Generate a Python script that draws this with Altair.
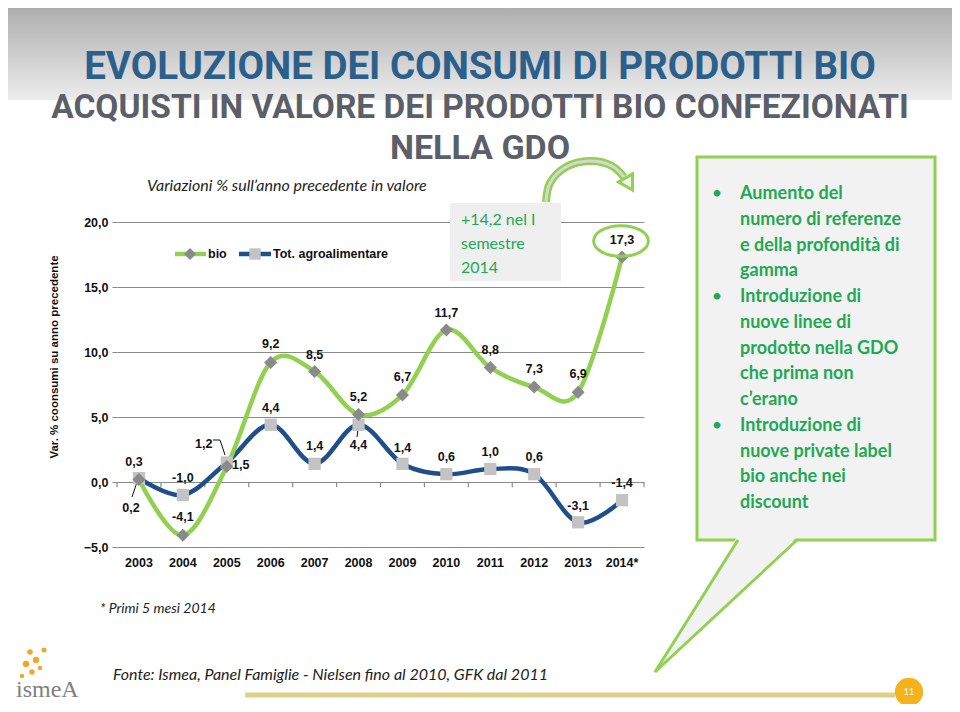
import altair as alt
import pandas as pd

# ---------------- data ----------------
years = ["2003", "2004", "2005", "2006", "2007", "2008", "2009", "2010", "2011", "2012", "2013", "2014*"]
bio = [0.2, -4.1, 1.2, 9.2, 8.5, 5.2, 6.7, 11.7, 8.8, 7.3, 6.9, 17.3]
tot = [0.3, -1.0, 1.5, 4.4, 1.4, 4.4, 1.4, 0.6, 1.0, 0.6, -3.1, -1.4]
y_ticks = [-5, 0, 5, 10, 15, 20]

# label offsets (pixels) for the data labels
bio_off = [(-8, 29), (0, -18), (-23, -22), (0, -18), (0, -17), (0, -17),
           (0, -18), (0, -17), (0, -18), (0, -18), (0, -18), (0, -17)]
tot_off = [(-5, -16), (0, -17), (14, 2), (0, -17), (0, -18), (0, 20),
           (0, -16), (0, -17), (0, -17), (0, -17), (0, -16), (0, -17)]

callout_lines = ["Aumento del", "numero di referenze", "e della profondità di", "gamma",
                 "Introduzione di", "nuove linee di", "prodotto nella GDO", "che prima non",
                 "c’erano", "Introduzione di", "nuove private label", "bio anche nei", "discount"]

# ---------------- layout helpers ----------------
L, T = 117, 222           # page position of plot origin
W, H = 527, 325


def X(p):
    return p - L


def Y(p):
    return p - T


one = pd.DataFrame({"a": [0]})
df = pd.DataFrame({"year": years, "bio": bio, "tot": tot})

GREEN = "#92d050"
BLUE = "#1f4e8b"
TXTGREEN = "#1fa855"
FONT = "Liberation Sans"
TFONT = "Roboto"

xenc = alt.X("year:N", sort=years,
             scale=alt.Scale(type="band", domain=years, paddingInner=0, paddingOuter=0),
             axis=alt.Axis(title=None, grid=False, ticks=False, domain=False, labelAngle=0,
                           labelFont=FONT, labelFontWeight="bold", labelFontSize=12.5,
                           labelColor="#111", labelPadding=9))
yscale = alt.Scale(domain=[-5, 20], nice=False, zero=False)
yaxis = alt.Axis(title=None, values=y_ticks, grid=True, gridColor="#8a8a8a", gridWidth=1.2,
                 domain=False, ticks=True, tickSize=5, tickColor="#8a8a8a",
                 labelExpr="replace(format(datum.value, '.1f'), '.', ',')",
                 labelFont=FONT, labelFontWeight="bold", labelFontSize=12.5,
                 labelColor="#111", labelPadding=4)

layers = []


def rule(x1, y1, x2=None, y2=None, color="#111", width=1.0):
    enc = {"x": alt.value(X(x1)), "y": alt.value(Y(y1))}
    if x2 is not None:
        enc["x2"] = alt.value(X(x2))
    if y2 is not None:
        enc["y2"] = alt.value(Y(y2))
    return alt.Chart(one).mark_rule(color=color, strokeWidth=width).encode(**enc)


# top gradient band
grad = alt.LinearGradient(gradient="linear",
                          stops=[alt.GradientStop(color="#a9a9a9", offset=0),
                                 alt.GradientStop(color="#ececec", offset=1)],
                          x1=0, x2=0, y1=0, y2=1)
layers.append(alt.Chart(one).mark_rect(color=grad).encode(
    x=alt.value(X(0)), x2=alt.value(X(960)), y=alt.value(Y(0)), y2=alt.value(Y(100))))

# base chart axes (invisible carrier)
base = alt.Chart(df).mark_point(opacity=0).encode(
    x=xenc, y=alt.Y("bio:Q", scale=yscale, axis=yaxis))
layers.append(base)

# ticks on zero line at category boundaries
tick_df = pd.DataFrame({"year": years})
layers.append(alt.Chart(tick_df).mark_rule(color="#8a8a8a", strokeWidth=1.2).encode(
    x=alt.X("year:N", sort=years, bandPosition=0), y=alt.datum(0), y2=alt.datum(-0.4)))
layers.append(alt.Chart(one).mark_rule(color="#8a8a8a", strokeWidth=1.2).encode(
    x=alt.value(W), y=alt.datum(0), y2=alt.datum(-0.4)))

# leader lines for some labels
layers.append(rule(137, 482, 132, 497))
layers.append(rule(213, 440, 220, 440))
layers.append(rule(220, 440, 225, 455))
layers.append(rule(358, 430, 357, 437))

# lines
layers.append(alt.Chart(df).mark_line(color=BLUE, strokeWidth=4.5, interpolate="cardinal").encode(
    x=alt.X("year:N", sort=years, bandPosition=0.5), y=alt.Y("tot:Q", scale=yscale)))
layers.append(alt.Chart(df).mark_line(color=GREEN, strokeWidth=4.5, interpolate="cardinal").encode(
    x=alt.X("year:N", sort=years, bandPosition=0.5), y=alt.Y("bio:Q", scale=yscale)))
layers.append(alt.Chart(df).mark_point(shape="square", filled=True, color="#c3c3c3", size=150, opacity=1).encode(
    x=alt.X("year:N", sort=years, bandPosition=0.5), y=alt.Y("tot:Q", scale=yscale)))
layers.append(alt.Chart(df).mark_point(shape="diamond", filled=True, color="#8a8a8a", size=170, opacity=1).encode(
    x=alt.X("year:N", sort=years, bandPosition=0.5), y=alt.Y("bio:Q", scale=yscale)))


# data labels
def fmt(v):
    return f"{v:.1f}".replace(".", ",")


for i, yv in enumerate(years):
    for series, vals, offs in (("bio", bio, bio_off), ("tot", tot, tot_off)):
        d = pd.DataFrame({"year": [yv], "v": [vals[i]], "t": [fmt(vals[i])]})
        layers.append(alt.Chart(d).mark_text(font=FONT, fontWeight="bold", fontSize=12.5,
                                             color="#111", dx=offs[i][0], dy=offs[i][1]).encode(
            x=alt.X("year:N", sort=years, bandPosition=0.5),
            y=alt.Y("v:Q", scale=yscale), text="t:N"))

# in-plot legend
layers.append(rule(175, 254, 206, None, GREEN, 4.5))
layers.append(alt.Chart(one).mark_point(shape="diamond", filled=True, color="#8a8a8a", size=150, opacity=1).encode(
    x=alt.value(X(190)), y=alt.value(Y(254))))
layers.append(alt.Chart(one).mark_text(text="bio", font=FONT, fontWeight="bold", fontSize=12.5,
                                       align="left", baseline="middle", color="#111").encode(
    x=alt.value(X(208)), y=alt.value(Y(254))))
layers.append(rule(239, 254, 271, None, BLUE, 4.5))
layers.append(alt.Chart(one).mark_point(shape="square", filled=True, color="#c3c3c3", size=130, opacity=1).encode(
    x=alt.value(X(255)), y=alt.value(Y(254))))
layers.append(alt.Chart(one).mark_text(text="Tot. agroalimentare", font=FONT, fontWeight="bold", fontSize=12.5,
                                       align="left", baseline="middle", color="#111").encode(
    x=alt.value(X(273)), y=alt.value(Y(254))))

# y axis title
layers.append(alt.Chart(one).mark_text(text="Var. % coonsumi su anno precedente", font=FONT,
                                       fontWeight="bold", fontSize=11.5, angle=270,
                                       align="center", baseline="middle", color="#111").encode(
    x=alt.value(X(55)), y=alt.value(Y(357))))

# "+14,2" box
layers.append(alt.Chart(one).mark_rect(color="#efefef").encode(
    x=alt.value(X(450)), x2=alt.value(X(561)), y=alt.value(Y(203)), y2=alt.value(Y(281))))
layers.append(alt.Chart(one).mark_text(text="+14,2 nel I\nsemestre\n2014", lineBreak="\n", lineHeight=24,
                                       font="Lato", fontSize=16, align="left", baseline="middle",
                                       color=TXTGREEN).encode(
    x=alt.value(X(461)), y=alt.value(Y(220))))

# curved arrow
arrow = pd.DataFrame({"px": [X(p) for p in [546, 550, 566, 590, 612, 624]],
                      "py": [Y(p) for p in [202, 183, 167, 161, 166, 177]],
                      "i": list(range(6))})
layers.append(alt.Chart(arrow).mark_line(color=GREEN, strokeWidth=8, interpolate="catmull-rom").encode(
    x=alt.X("px:Q", scale=None), y=alt.Y("py:Q", scale=None), order="i:Q"))
layers.append(alt.Chart(arrow).mark_line(color="#d6d6d6", strokeWidth=3, interpolate="catmull-rom").encode(
    x=alt.X("px:Q", scale=None), y=alt.Y("py:Q", scale=None), order="i:Q"))
layers.append(alt.Chart(one).mark_point(shape="triangle-down", filled=True, fill="#f4f4f4", stroke=GREEN,
                                        strokeWidth=3, size=260, angle=330, opacity=1).encode(
    x=alt.value(X(629)), y=alt.value(Y(184))))

# ellipse around 17,3
layers.append(alt.Chart(one).mark_point(shape="M-1,0 A1,0.56 0 1,0 1,0 A1,0.56 0 1,0 -1,0",
                                        size=3000, stroke=GREEN, strokeWidth=3, filled=False, opacity=1).encode(
    x=alt.value(X(621)), y=alt.value(Y(241))))

# callout box
layers.append(alt.Chart(one).mark_rect(fill="#f2f2f2", stroke=GREEN, strokeWidth=3).encode(
    x=alt.value(X(697)), x2=alt.value(X(935)), y=alt.value(Y(157)), y2=alt.value(Y(540))))
tail = pd.DataFrame({"py": [Y(537), Y(672)], "xa": [X(737), X(655)], "xb": [X(797), X(655)]})
layers.append(alt.Chart(tail).mark_area(orient="horizontal", color="#f2f2f2", opacity=1).encode(
    y=alt.Y("py:Q", scale=None), x=alt.X("xa:Q", scale=None), x2="xb:Q"))
layers.append(rule(738, 540, 655, 672, GREEN, 3))
layers.append(rule(797, 540, 655, 672, GREEN, 3))
layers.append(alt.Chart(one).mark_text(text="\n".join(callout_lines), lineBreak="\n", lineHeight=25.75,
                                       font="Lato", fontWeight="bold", fontSize=18, align="left",
                                       baseline="middle", color=TXTGREEN).encode(
    x=alt.value(X(740)), y=alt.value(Y(194))))
for by in (194, 297, 426):
    layers.append(alt.Chart(one).mark_text(text="•", font="Lato", fontSize=18, align="center",
                                           baseline="middle", color=TXTGREEN).encode(
        x=alt.value(X(717)), y=alt.value(Y(by))))

# titles
layers.append(alt.Chart(one).mark_text(text="EVOLUZIONE DEI CONSUMI DI PRODOTTI BIO",
                                       font=TFONT, fontWeight="bold", fontSize=38.5,
                                       color="#2b5f8c", align="center", baseline="middle").encode(
    x=alt.value(X(480)), y=alt.value(Y(67))))
layers.append(alt.Chart(one).mark_text(text="ACQUISTI IN VALORE DEI PRODOTTI BIO CONFEZIONATI",
                                       font=TFONT, fontWeight="bold", fontSize=33.5,
                                       color="#5a5f69", align="center", baseline="middle").encode(
    x=alt.value(X(480)), y=alt.value(Y(108))))
layers.append(alt.Chart(one).mark_text(text="NELLA GDO",
                                       font=TFONT, fontWeight="bold", fontSize=34,
                                       color="#5a5f69", align="center", baseline="middle").encode(
    x=alt.value(X(480)), y=alt.value(Y(149))))
layers.append(alt.Chart(one).mark_text(text="Variazioni % sull’anno precedente in valore",
                                       font="Lato", fontStyle="italic", fontSize=16,
                                       color="#222", align="left", baseline="middle").encode(
    x=alt.value(X(147)), y=alt.value(Y(186))))

# footer
layers.append(alt.Chart(one).mark_text(text="* Primi 5 mesi 2014", font="Lato", fontStyle="italic",
                                       fontSize=14, color="#222", align="left", baseline="middle").encode(
    x=alt.value(X(100)), y=alt.value(Y(609))))
layers.append(alt.Chart(one).mark_text(text="Fonte: Ismea, Panel Famiglie - Nielsen fino al 2010, GFK dal 2011",
                                       font="Lato", fontStyle="italic", fontSize=16, color="#222",
                                       align="left", baseline="middle").encode(
    x=alt.value(X(113)), y=alt.value(Y(675))))
layers.append(rule(245, 695, 895, None, "#dcd08a", 5))
layers.append(alt.Chart(one).mark_point(shape="circle", filled=True, color="#f5b21a", size=800, opacity=1).encode(
    x=alt.value(X(909)), y=alt.value(Y(692))))
layers.append(alt.Chart(one).mark_text(text="11", font="Lato", fontSize=9, color="white",
                                       align="center", baseline="middle").encode(
    x=alt.value(X(909)), y=alt.value(Y(692))))
# logo approximation
for (lx, ly, s) in [(30, 652, 30), (36, 660, 40), (26, 664, 40), (44, 650, 25), (32, 672, 30), (22, 676, 20), (40, 668, 20)]:
    layers.append(alt.Chart(one).mark_point(shape="circle", filled=True, color="#f5a623", size=s, opacity=1).encode(
        x=alt.value(X(lx)), y=alt.value(Y(ly))))
layers.append(alt.Chart(one).mark_text(text="ismeA", font="Liberation Serif", fontSize=24, color="#7f7f7f",
                                       align="left", baseline="middle").encode(
    x=alt.value(X(16)), y=alt.value(Y(690))))

chart = alt.layer(*layers).properties(
    width=W, height=H,
    padding={"left": 109, "top": 214, "right": 308, "bottom": 157},
    autosize=alt.AutoSizeParams(type="none"),
    background="white",
).configure_view(stroke=None)

chart.save("out.html", embed_options={"renderer": "svg", "actions": False})
